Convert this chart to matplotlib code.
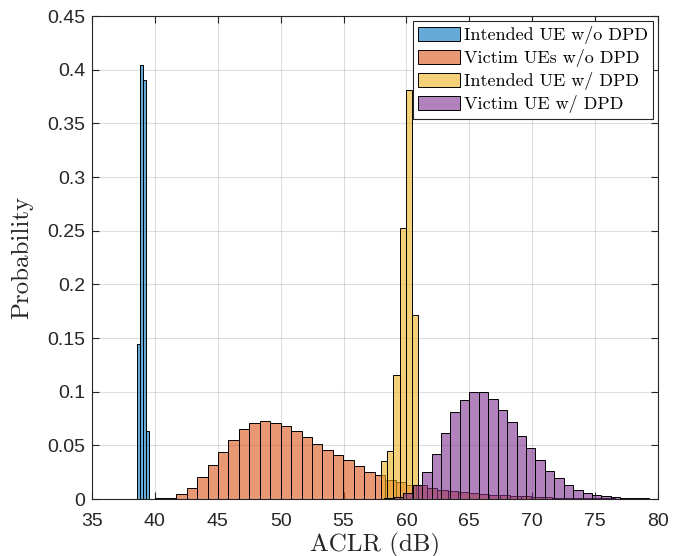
import numpy as np
import matplotlib
matplotlib.use("Agg")
import matplotlib.pyplot as plt

# histogram bins (left edge of first bin, bin width) and bin probabilities
blue_start, blue_width = 38.55, 0.24
blue_prob = [0.1444, 0.404, 0.390, 0.063]

orange_start, orange_width = 40.04, 0.83
orange_prob = [0.0005, 0.0012, 0.0047, 0.0102, 0.0205, 0.0317, 0.0441, 0.055,
               0.065, 0.0708, 0.0727, 0.0705, 0.068, 0.0634, 0.058, 0.0513,
               0.0457, 0.041, 0.036, 0.0307, 0.0255, 0.0224, 0.0177, 0.016,
               0.0127, 0.0127, 0.0102, 0.0087, 0.0071, 0.0062, 0.0055, 0.0049,
               0.004, 0.0033, 0.0028, 0.0024, 0.002, 0.0017, 0.0014, 0.0012,
               0.001, 0.0008, 0.0007, 0.0005, 0.0004, 0.0003, 0.0002]

yellow_start, yellow_width = 57.98, 0.493
yellow_prob = [0.0357, 0.0444, 0.116, 0.2525, 0.3808, 0.1717]

purple_start, purple_width = 58.25, 0.75
purple_prob = [0.0005, 0.0019, 0.0056, 0.013, 0.0252, 0.0416, 0.0615, 0.081,
               0.0922, 0.0997, 0.0997, 0.0929, 0.0829, 0.072, 0.0587, 0.0472,
               0.036, 0.0264, 0.0196, 0.013, 0.0087, 0.0056, 0.004, 0.0028,
               0.0019, 0.0012, 0.0009, 0.0006, 0.0003]

labels = ["Intended UE w/o DPD", "Victim UEs w/o DPD",
          "Intended UE w/ DPD", "Victim UE w/ DPD"]

colors = [(0, 0.447, 0.741), (0.85, 0.325, 0.098),
          (0.929, 0.694, 0.125), (0.494, 0.184, 0.556)]

series = [(blue_start, blue_width, blue_prob),
          (orange_start, orange_width, orange_prob),
          (yellow_start, yellow_width, yellow_prob),
          (purple_start, purple_width, purple_prob)]

dark = (0.15, 0.15, 0.15)

fig = plt.figure(figsize=(6.85, 5.56), dpi=100)
ax = fig.add_axes([0.1343, 0.1025, 0.8263, 0.8687])

for (start, width, prob), col, lab in zip(series, colors, labels):
    prob = np.array(prob)
    edges = start + width * np.arange(len(prob) + 1)
    centers = (edges[:-1] + edges[1:]) / 2
    ax.hist(centers, bins=edges, weights=prob, facecolor=col + (0.6,),
            edgecolor="black", linewidth=0.7, label=lab)

ax.set_xlim(35, 80)
ax.set_ylim(0, 0.45)
ax.set_xticks(np.arange(35, 81, 5))
ax.set_yticks(np.arange(0, 0.451, 0.05))
ax.set_yticklabels(["0", "0.05", "0.1", "0.15", "0.2", "0.25", "0.3",
                    "0.35", "0.4", "0.45"])
ax.grid(True, color=dark, alpha=0.15, linewidth=0.8)
ax.set_axisbelow(True)
ax.tick_params(direction="in", length=5, width=0.8, top=True, right=True,
               labelsize=14, colors=dark, labelcolor=dark)
ax.tick_params(axis="x", pad=10)
ax.tick_params(axis="y", pad=5)
for lab in ax.get_xticklabels() + ax.get_yticklabels():
    lab.set_fontfamily("Liberation Sans")
for sp in ax.spines.values():
    sp.set_color(dark)
    sp.set_linewidth(0.8)

ax.set_xlabel("ACLR (dB)", fontfamily="cmr10", fontsize=18, color=dark,
              labelpad=2)
ax.set_ylabel("Probability", fontfamily="cmr10", fontsize=18, color=dark)
ax.yaxis.set_label_coords(-0.104, 0.5)

leg = ax.legend(loc="upper right", prop={"family": "cmr10", "size": 13},
                fancybox=False, framealpha=1, edgecolor=dark,
                borderaxespad=0.25, borderpad=0.3, labelspacing=0.28,
                handlelength=2.35, handleheight=0.8, handletextpad=0.2)
leg.get_frame().set_linewidth(0.8)

fig.savefig("out.png", dpi=100)
